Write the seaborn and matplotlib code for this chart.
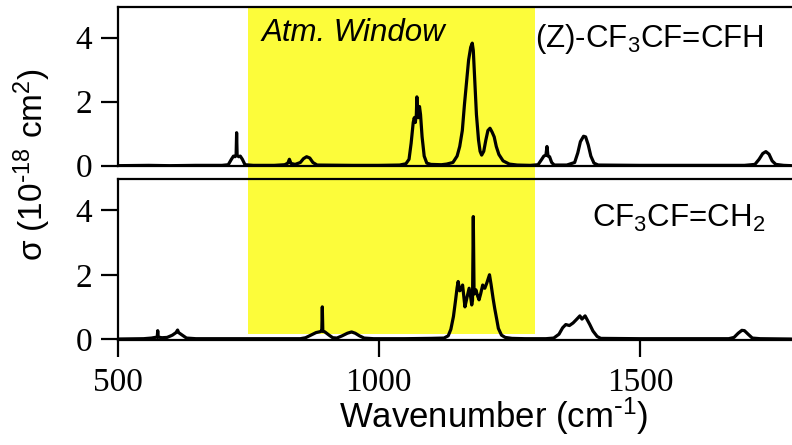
import matplotlib
matplotlib.use("Agg")
import matplotlib.pyplot as plt
import matplotlib.transforms as mtransforms
from matplotlib.patches import Rectangle
import seaborn as sns
import pandas as pd

# ---- data ----
z_wn = [500, 560, 600, 650, 700, 712, 718, 722, 725, 727, 728, 729, 732, 735, 739, 744, 760,
        800, 820, 826, 829, 832, 840, 850, 856, 862, 868, 874, 882, 950, 1000, 1040, 1052,
        1058, 1062, 1066, 1068, 1070, 1072, 1073, 1074, 1076, 1078, 1080, 1083, 1087, 1092,
        1100, 1120, 1130, 1142, 1150, 1155, 1160, 1164, 1168, 1172, 1176, 1179, 1181, 1184,
        1187, 1191, 1194, 1197, 1201, 1205, 1209, 1213, 1217, 1221, 1225, 1230, 1238, 1250,
        1265, 1290, 1305, 1312, 1316, 1320, 1322, 1324, 1327, 1331, 1336, 1360, 1375, 1381,
        1386, 1392, 1396, 1401, 1406, 1412, 1420, 1500, 1600, 1700, 1720, 1728, 1735, 1741,
        1747, 1753, 1760, 1775, 1790]
z_sigma = [0.0, 0.01, 0.0, 0.01, 0.01, 0.03, 0.2, 0.3, 0.28, 0.32, 1.03, 0.32, 0.28, 0.3, 0.2,
           0.03, 0.01, 0.01, 0.03, 0.08, 0.2, 0.07, 0.04, 0.1, 0.22, 0.28, 0.24, 0.1, 0.02,
           0.01, 0.01, 0.02, 0.06, 0.2, 0.7, 1.35, 1.5, 1.35, 1.6, 2.15, 1.7, 1.5, 1.85, 1.6,
           0.9, 0.3, 0.08, 0.04, 0.03, 0.05, 0.1, 0.3, 0.6, 1.1, 1.9, 2.6, 3.3, 3.7, 3.83,
           3.6, 2.6, 1.6, 0.8, 0.45, 0.33, 0.45, 0.8, 1.1, 1.17, 1.05, 0.9, 0.6, 0.35, 0.15,
           0.05, 0.02, 0.01, 0.03, 0.2, 0.3, 0.33, 0.6, 0.3, 0.28, 0.1, 0.02, 0.02, 0.1, 0.4,
           0.75, 0.92, 0.9, 0.65, 0.3, 0.08, 0.02, 0.01, 0.01, 0.01, 0.04, 0.2, 0.38, 0.44,
           0.36, 0.15, 0.04, 0.01, 0.0]

h_wn = [500, 550, 565, 572, 576, 577, 578, 585, 595, 605, 612, 615, 617, 624, 632, 650, 700,
        800, 850, 860, 870, 880, 888, 891, 892, 893, 897, 905, 912, 920, 930, 940, 948, 955,
        963, 972, 990, 1050, 1100, 1125, 1133, 1138, 1143, 1147, 1150, 1152, 1155, 1158,
        1160.5, 1163, 1165, 1169, 1173, 1176, 1178, 1179.5, 1181, 1182.5, 1186, 1189, 1192,
        1195, 1199, 1201, 1203, 1207, 1212, 1215, 1219, 1222, 1226, 1229, 1235, 1242, 1255,
        1280, 1320, 1335, 1345, 1352, 1358, 1365, 1372, 1378, 1385, 1389, 1395, 1399, 1404,
        1410, 1418, 1425, 1500, 1600, 1670, 1680, 1688, 1695, 1700, 1707, 1715, 1730, 1790]
h_sigma = [0.0, 0.01, 0.03, 0.05, 0.06, 0.26, 0.06, 0.04, 0.05, 0.12, 0.2, 0.28, 0.2, 0.12,
           0.03, 0.01, 0.01, 0.01, 0.01, 0.04, 0.12, 0.2, 0.23, 0.25, 1.0, 0.25, 0.22, 0.12,
           0.04, 0.03, 0.1, 0.18, 0.22, 0.18, 0.1, 0.03, 0.01, 0.01, 0.02, 0.03, 0.1, 0.3,
           0.7, 1.2, 1.6, 1.79, 1.5, 1.55, 1.68, 1.3, 1.0, 1.3, 1.58, 1.3, 1.06, 1.2, 3.81,
           1.4, 1.53, 1.35, 1.22, 1.4, 1.68, 1.6, 1.58, 1.75, 2.0, 1.7, 1.25, 0.95, 0.6, 0.33,
           0.12, 0.05, 0.02, 0.01, 0.01, 0.03, 0.15, 0.35, 0.45, 0.42, 0.5, 0.6, 0.72, 0.62,
           0.72, 0.6, 0.45, 0.25, 0.08, 0.02, 0.01, 0.01, 0.01, 0.05, 0.18, 0.27, 0.26, 0.15,
           0.03, 0.01, 0.0]

window = [750, 1300]
y_ticks = [0, 2, 4]
x_ticks = [500, 1000, 1500]
labels = ["(Z)-CF$_3$CF=CFH", "CF$_3$CF=CH$_2$"]

# ---- style ----
sns.set_style("ticks")
plt.rcParams["font.family"] = ["Liberation Sans", "DejaVu Sans"]
plt.rcParams["mathtext.default"] = "regular"
for k in ("text.color", "axes.labelcolor", "xtick.color", "ytick.color", "axes.edgecolor"):
    plt.rcParams[k] = "black"

W, H = 792, 445
fig = plt.figure(figsize=(W / 100, H / 100), dpi=100)
left = 117.5 / W
ax1 = fig.add_axes([left, 1 - 166 / H, 1 - left, (166 - 7) / H])
ax2 = fig.add_axes([left, 1 - 339.5 / H, 1 - left, (339.5 - 179) / H])

df_z = pd.DataFrame({"wn": z_wn, "sigma": z_sigma})
df_h = pd.DataFrame({"wn": h_wn, "sigma": h_sigma})
sns.lineplot(data=df_z, x="wn", y="sigma", ax=ax1, color="black", linewidth=2.3,
             estimator=None, sort=False)
sns.lineplot(data=df_h, x="wn", y="sigma", ax=ax2, color="black", linewidth=2.3,
             estimator=None, sort=False)

ax1.set_ylim(-0.01, 4.96)
ax2.set_ylim(-0.015, 4.98)
for ax in (ax1, ax2):
    ax.set_xlim(500, 1791)
    ax.set_facecolor("none")
    ax.set_xlabel("")
    ax.set_ylabel("")
    ax.set_yticks(y_ticks)
    ax.spines["right"].set_visible(False)
    for s in ("left", "top", "bottom"):
        ax.spines[s].set_linewidth(1.6)
        ax.spines[s].set_color("black")
    ax.tick_params(axis="y", direction="out", length=12, width=1.6, pad=6,
                   labelsize=24, labelfontfamily="Liberation Serif", color="black",
                   labelcolor="black")
ax1.tick_params(axis="x", length=0, labelbottom=False)
ax2.set_xticks(x_ticks)
ax2.tick_params(axis="x", direction="out", length=12, width=1.6, pad=8,
                labelsize=24, labelfontfamily="Liberation Serif", color="black",
                labelcolor="black")

# atmospheric window band spanning both panels
trans = mtransforms.blended_transform_factory(ax2.transData, fig.transFigure)
rect = Rectangle((window[0], 1 - 334 / H), window[1] - window[0], (334 - 7) / H,
                 transform=trans, facecolor="#fcfc3a", edgecolor="none", zorder=-1)
fig.add_artist(rect)

fig.text(262 / W, 1 - 41 / H, "Atm. Window", fontsize=22.5, style="italic",
         ha="left", va="baseline", color="black")
fig.text(535 / W, 1 - 47 / H, labels[0], fontsize=22.5, ha="left", va="baseline",
         color="black")
fig.text(592 / W, 1 - 227 / H, labels[1], fontsize=22.5, ha="left", va="baseline",
         color="black")
fig.text(494 / W, 1 - 428 / H, "Wavenumber (cm$^{\\text{-}1}$)", fontsize=25,
         ha="center", va="baseline", color="black")
fig.text(32 / W, 1 - 165 / H, "σ (10$^{\\text{-}18}$ cm$^{2}$)", fontsize=24, rotation=90,
         ha="center", va="center", color="black")

fig.savefig("out.png", dpi=100)
